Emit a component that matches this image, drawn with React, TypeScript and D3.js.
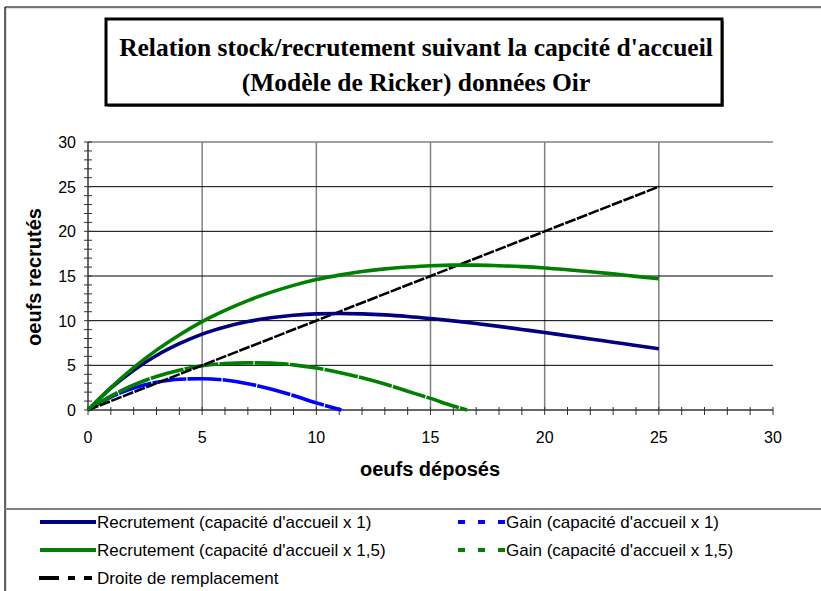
import React from "react";
import * as d3 from "d3";

// ---- Data ----
const stockSteps = [0, 1, 2, 3, 4, 5, 6, 7, 8, 9, 10, 11, 12, 13, 14, 15, 16, 17, 18, 19, 20, 21, 22, 23, 24, 25];
const recruitCap1 = [0, 2.44, 4.45, 6.1, 7.42, 8.5, 9.3, 9.9, 10.32, 10.6, 10.76, 10.8, 10.76, 10.65, 10.47, 10.24, 9.98, 9.68, 9.36, 9.02, 8.68, 8.31, 7.95, 7.59, 7.23, 6.85];
const recruitCap15 = [0, 2.51, 4.75, 6.7, 8.4, 9.9, 11.15, 12.25, 13.17, 13.95, 14.6, 15.1, 15.5, 15.8, 16.0, 16.15, 16.22, 16.22, 16.15, 16.05, 15.9, 15.7, 15.48, 15.24, 14.96, 14.7];
const gainSteps1 = [0, 1, 2, 3, 4, 5, 6, 7, 8, 9, 10, 11.1];
const gainCap1 = [0, 1.44, 2.45, 3.1, 3.45, 3.5, 3.35, 2.95, 2.35, 1.62, 0.8, 0];
const gainSteps15 = [0, 1, 2, 3, 4, 5, 6, 7, 8, 9, 10, 11, 12, 13, 14, 15, 16, 16.6];
const gainCap15 = [0, 1.55, 2.8, 3.75, 4.45, 4.95, 5.2, 5.28, 5.25, 5.05, 4.7, 4.2, 3.6, 2.9, 2.1, 1.3, 0.45, 0];
const replaceSteps = [0, 25];
const replaceValues = [0, 25];
const xTickValues = [0, 5, 10, 15, 20, 25, 30];
const yTickValues = [0, 5, 10, 15, 20, 25, 30];
const minorTicks = d3.range(0, 31, 1);
const titleLines = [
  "Relation stock/recrutement suivant la capcité d'accueil",
  "(Modèle de Ricker) données Oir",
];
const legendLabels = [
  "Recrutement (capacité d'accueil x 1)",
  "Gain (capacité d'accueil x 1)",
  "Recrutement (capacité d'accueil x 1,5)",
  "Gain (capacité d'accueil x 1,5)",
  "Droite de remplacement",
];

const W = 821;
const H = 591;
const plot = { left: 88, right: 773, top: 142, bottom: 410 };

const NAVY = "#000080";
const GREEN = "#008000";
const BLUE = "#0000FF";

export default function App() {
  const x = d3.scaleLinear().domain([0, 30]).range([plot.left, plot.right]);
  const y = d3.scaleLinear().domain([0, 30]).range([plot.bottom, plot.top]);
  const line = d3
    .line<[number, number]>()
    .x((d) => x(d[0]))
    .y((d) => y(d[1]))
    .curve(d3.curveMonotoneX);
  const zip = (a: number[], b: number[]) => a.map((v, i) => [v, b[i]] as [number, number]);

  const sans = "'Liberation Sans', Arial, sans-serif";
  const serif = "'Liberation Serif', 'Times New Roman', serif";

  const series = [
    { d: line(zip(gainSteps1, gainCap1)), color: BLUE, dash: "34 1.2" },
    { d: line(zip(gainSteps15, gainCap15)), color: GREEN, dash: "34 1.2" },
    { d: line(zip(replaceSteps, replaceValues)), color: "#000", dash: "11 1.5", w: 2.6 },
    { d: line(zip(stockSteps, recruitCap1)), color: NAVY, dash: undefined },
    { d: line(zip(stockSteps, recruitCap15)), color: GREEN, dash: undefined },
  ];

  return (
    <svg
      width={W}
      height={H}
      style={{ position: "absolute", left: 0, top: 0, background: "#fff" }}
      fontFamily={sans}
    >
      <rect x={0} y={0} width={W} height={H} fill="#fff" />
      {/* outer frame */}
      <line x1={6} y1={8} x2={W} y2={8} stroke="#c0c0c0" strokeWidth={1} />
      <line x1={6} y1={8} x2={6} y2={H} stroke="#c0c0c0" strokeWidth={1} />
      <line x1={5} y1={7} x2={W} y2={7} stroke="#000" strokeWidth={1.2} />
      <line x1={5} y1={7} x2={5} y2={H} stroke="#000" strokeWidth={1.2} />
      {/* legend separator */}
      <line x1={5} y1={509} x2={W} y2={509} stroke="#808080" strokeWidth={2} />

      {/* title box */}
      <rect x={108} y={21} width={616} height={86} fill="#808080" />
      <rect x={106} y={19} width={616} height={86} fill="#fff" stroke="#000" strokeWidth={3} />
      {titleLines.map((t, i) => (
        <text
          key={i}
          x={416}
          y={56 + i * 35}
          textAnchor="middle"
          fontFamily={serif}
          fontWeight="bold"
          fontSize={25.5}
        >
          {t}
        </text>
      ))}

      {/* grid */}
      {xTickValues
        .filter((v) => v > 0 && v < 30)
        .map((v) => (
          <line key={"gx" + v} x1={x(v)} x2={x(v)} y1={y(30)} y2={y(0)} stroke="#808080" strokeWidth={1.5} />
        ))}
      {yTickValues
        .filter((v) => v > 0 && v < 30)
        .map((v) => (
          <line key={"gy" + v} x1={x(0)} x2={x(30)} y1={y(v)} y2={y(v)} stroke="#000" strokeWidth={1} />
        ))}
      <line x1={x(0)} x2={x(30)} y1={y(30)} y2={y(30)} stroke="#808080" strokeWidth={1.5} />

      {/* axes */}
      <line x1={x(0)} x2={x(0)} y1={y(30)} y2={y(0)} stroke="#333" strokeWidth={1.5} />
      <line x1={x(0)} x2={x(30)} y1={y(0)} y2={y(0)} stroke="#333" strokeWidth={1.5} />
      {minorTicks.map((v) => (
        <line key={"ty" + v} x1={x(0) - 4} x2={x(0) + 4} y1={y(v)} y2={y(v)} stroke="#333" strokeWidth={1} />
      ))}
      {minorTicks.map((v) => (
        <line key={"tx" + v} x1={x(v)} x2={x(v)} y1={y(0) - 3} y2={y(0) + 5} stroke="#333" strokeWidth={1} />
      ))}
      {yTickValues.map((v) => (
        <text key={"ly" + v} x={x(0) - 12} y={y(v) + 6} textAnchor="end" fontSize={16}>
          {v}
        </text>
      ))}
      {xTickValues.map((v) => (
        <text key={"lx" + v} x={x(v)} y={y(0) + 33} textAnchor="middle" fontSize={16}>
          {v}
        </text>
      ))}

      {/* axis titles */}
      <text x={430} y={476} textAnchor="middle" fontWeight="bold" fontSize={20}>
        oeufs déposés
      </text>
      <text
        transform={`translate(41, ${277}) rotate(-90)`}
        textAnchor="middle"
        fontWeight="bold"
        fontSize={20}
      >
        oeufs recrutés
      </text>

      {/* series */}
      {series.map((s, i) => (
        <path
          key={i}
          d={s.d || ""}
          fill="none"
          stroke={s.color}
          strokeWidth={s.w ?? 3.6}
          strokeDasharray={s.dash}
          strokeLinejoin="round"
        />
      ))}

      {/* legend */}
      <g fontSize={17}>
        <line x1={40} x2={96} y1={522} y2={522} stroke={NAVY} strokeWidth={4} />
        <text x={97} y={528}>{legendLabels[0]}</text>
        <line x1={40} x2={96} y1={550} y2={550} stroke={GREEN} strokeWidth={4} />
        <text x={97} y={556}>{legendLabels[2]}</text>
        <line x1={39} x2={96} y1={578} y2={578} stroke="#000" strokeWidth={4} strokeDasharray="20 9 7 9 8 4" />
        <text x={97} y={584}>{legendLabels[4]}</text>

        <line x1={458} x2={505} y1={522} y2={522} stroke={BLUE} strokeWidth={4} strokeDasharray="7 13" />
        <text x={506} y={528}>{legendLabels[1]}</text>
        <line x1={458} x2={505} y1={550} y2={550} stroke={GREEN} strokeWidth={4} strokeDasharray="7 13" />
        <text x={506} y={556}>{legendLabels[3]}</text>
      </g>
    </svg>
  );
}
